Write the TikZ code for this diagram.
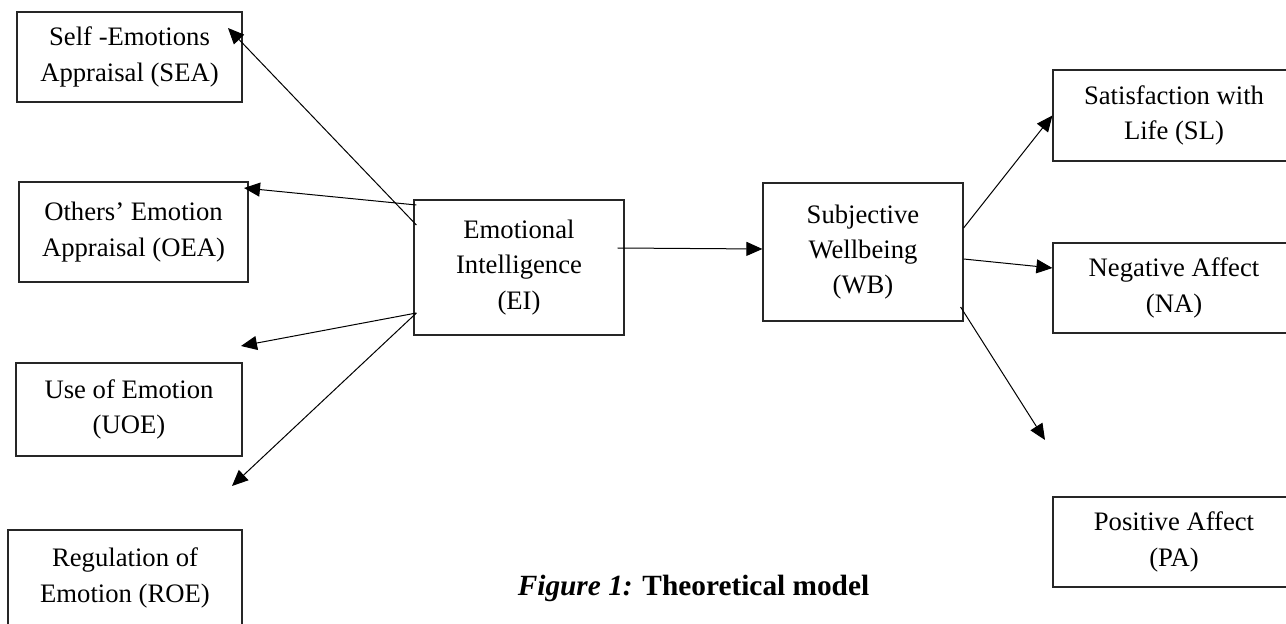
\documentclass[tikz,border=0pt]{standalone}
\usepackage{fontspec}
\setmainfont{Liberation Serif}
\usetikzlibrary{arrows.meta,calc}
\begin{document}
\begin{tikzpicture}[x=0.75pt,y=-0.75pt,
  box/.style={draw=black!85,line width=0.9pt,align=center,inner sep=0pt,
    font=\fontsize{20}{26.5}\selectfont},
  conn/.style={line width=0.75pt,-{Triangle[length=12pt,width=10.5pt]}}]
\useasboundingbox (0,0) rectangle (1286,624);
\clip (0,0) rectangle (1286,624);
% left column
\node[box,minimum width=168.75pt,minimum height=67.5pt] (SEA) at (129.5,57) {Self -Emotions\\Appraisal (SEA)};
\node[box,minimum width=171.75pt,minimum height=75pt] (OEA) at (133.5,232) {Others’ Emotion\\Appraisal (OEA)};
\node[box,minimum width=169.5pt,minimum height=69.75pt] (UOE) at (129,409.5) {Use of Emotion\\(UOE)};
\node[box,minimum width=175.5pt,minimum height=72pt] (ROE) at (125,578) {Regulation of\\Emotion (ROE)};
% centre
\node[box,minimum width=157.5pt,minimum height=101.25pt] (EI) at (519,267.5) {Emotional\\Intelligence\\(EI)};
\node[box,minimum width=150pt,minimum height=103.5pt] (WB) at (863,252) {Subjective\\Wellbeing\\(WB)};
% right column
\node[box,minimum width=181.5pt,minimum height=68.25pt] (SL) at (1174,115.5) {Satisfaction with\\Life (SL)};
\node[box,minimum width=181.5pt,minimum height=67.5pt] (NA) at (1174,288) {Negative Affect\\(NA)};
\node[box,minimum width=181.5pt,minimum height=67.5pt] (PA) at (1174,542) {Positive Affect\\(PA)};
% caption
\node[font=\fontsize{22}{26}\selectfont,inner sep=0pt] (cap) at (693.5,588) {\textbf{\textit{Figure 1:}} \textbf{Theoretical model}};
% endpoints
\coordinate (eiSEA) at ($(EI.west)+(3,-42.5)$);
\coordinate (eiOEA) at ($(EI.west)+(3,-62.5)$);
\coordinate (eiLOW) at ($(EI.west)+(3,45.5)$);
\coordinate (tSEA) at (228,28);
\coordinate (tOEA) at (244,188);
\coordinate (tUOE) at (241,346);
\coordinate (tROE) at (232,486);
\coordinate (eiR) at ($(EI.east)+(-7,-19.5)$);
\coordinate (wbL) at ($(WB.west)+(0,-3)$);
\coordinate (wbSL) at ($(WB.east)+(0,-24)$);
\coordinate (wbNA) at ($(WB.east)+(0,7)$);
\coordinate (wbPA) at ($(WB.east)+(-3,55)$);
\coordinate (tPA) at (1045,440);
% connectors
\draw[conn] (eiSEA) -- (tSEA);
\draw[conn] (eiOEA) -- (tOEA);
\draw[conn] (eiLOW) -- (tUOE);
\draw[conn] (eiLOW) -- (tROE);
\draw[conn] (eiR) -- (wbL);
\draw[conn] (wbSL) -- (SL.west);
\draw[conn] (wbNA) -- ($(NA.west)+(0,-20)$);
\draw[conn] (wbPA) -- (tPA);
\end{tikzpicture}
\end{document}
